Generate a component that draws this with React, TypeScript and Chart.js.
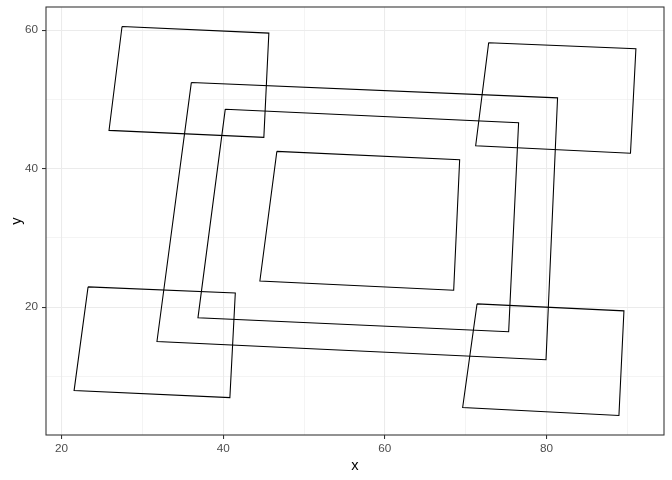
import React, { useEffect, useRef } from "react";
import { Chart, registerables } from "chart.js";

Chart.register(...registerables);

// Polygon vertices
const topLeftX = [27.49, 45.65, 45.03, 25.88];
const topLeftY = [60.53, 59.57, 44.52, 45.53];
const topRightX = [72.84, 91.05, 90.38, 71.23];
const topRightY = [58.19, 57.32, 42.22, 43.31];
const bottomLeftX = [23.29, 41.5, 40.83, 21.56];
const bottomLeftY = [22.94, 22.07, 6.96, 7.97];
const bottomRightX = [71.4, 89.57, 88.95, 69.62];
const bottomRightY = [20.49, 19.48, 4.37, 5.53];
const centerX = [46.64, 69.25, 68.51, 44.54];
const centerY = [42.5, 41.29, 22.45, 23.8];
const outerX = [36.06, 81.36, 79.93, 31.81];
const outerY = [52.43, 50.22, 12.43, 15.06];
const innerX = [40.26, 76.54, 75.31, 36.88];
const innerY = [48.59, 46.62, 16.46, 18.47];

const polygons = [
  [topLeftX, topLeftY],
  [topRightX, topRightY],
  [bottomLeftX, bottomLeftY],
  [bottomRightX, bottomRightY],
  [centerX, centerY],
  [outerX, outerY],
  [innerX, innerY],
];

const xTicks = [20, 30, 40, 50, 60, 70, 80, 90];
const xMajor = [20, 40, 60, 80];
const yTicks = [10, 20, 30, 40, 50, 60];
const yMajor = [20, 40, 60];

const FONT = "'Liberation Sans', Arial, sans-serif";

export default function App() {
  const ref = useRef<HTMLCanvasElement | null>(null);
  useEffect(() => {
    document.body.style.margin = "0";
    const allX = polygons.flatMap((p) => p[0]);
    const allY = polygons.flatMap((p) => p[1]);
    const xmin = Math.min(...allX), xmax = Math.max(...allX);
    const ymin = Math.min(...allY), ymax = Math.max(...allY);
    const xr = xmax - xmin, yr = ymax - ymin;

    const datasets = polygons.map(([xs, ys]) => {
      const pts = xs.map((x, i) => ({ x, y: ys[i] }));
      pts.push({ x: xs[0], y: ys[0] });
      return {
        data: pts,
        showLine: true,
        borderColor: "#000000",
        borderWidth: 1.07,
        pointRadius: 0,
        fill: false,
        tension: 0,
      };
    });

    const borderPlugin = {
      id: "panelBorder",
      afterDraw(chart: any) {
        const { ctx, chartArea } = chart;
        ctx.save();
        ctx.strokeStyle = "#333333";
        ctx.lineWidth = 1.07;
        ctx.strokeRect(chartArea.left, chartArea.top, chartArea.right - chartArea.left, chartArea.bottom - chartArea.top);
        ctx.restore();
      },
    };

    const gridOpts = (majors: number[]) => ({
      color: "#EBEBEB",
      lineWidth: (c: any) => (majors.includes(c.tick?.value) ? 1.07 : 0.53),
      tickColor: (c: any) => (majors.includes(c.tick?.value) ? "#333333" : "rgba(0,0,0,0)"),
      tickWidth: 1.07,
      tickLength: 4,
      drawTicks: true,
    });

    const chart = new Chart(ref.current as HTMLCanvasElement, {
      type: "scatter",
      data: { datasets },
      plugins: [borderPlugin],
      options: {
        animation: false,
        responsive: false,
        layout: { padding: { top: 7, right: 8, left: 0, bottom: 0 } },
        plugins: { legend: { display: false }, tooltip: { enabled: false } },
        scales: {
          x: {
            type: "linear",
            min: xmin - 0.05 * xr,
            max: xmax + 0.05 * xr,
            afterBuildTicks: (s: any) => {
              s.ticks = xTicks.map((v) => ({ value: v }));
            },
            afterFit: (s: any) => {
              s.height = 45;
              s.paddingLeft = 0;
              s.paddingRight = 0;
            },
            ticks: {
              color: "#4D4D4D",
              font: { family: FONT, size: 11.73 },
              padding: 3,
              maxRotation: 0,
              autoSkip: false,
              callback: (v: any) => (xMajor.includes(v) ? String(v) : ""),
            },
            grid: gridOpts(xMajor),
            border: { display: false },
            title: {
              display: true,
              text: "x",
              color: "#000000",
              font: { family: FONT, size: 14.67 },
              padding: { top: 0, bottom: 5 },
            },
          },
          y: {
            type: "linear",
            min: ymin - 0.05 * yr,
            max: ymax + 0.05 * yr,
            afterBuildTicks: (s: any) => {
              s.ticks = yTicks.map((v) => ({ value: v }));
            },
            afterFit: (s: any) => {
              s.width = 46;
              s.paddingTop = 0;
              s.paddingBottom = 0;
            },
            ticks: {
              color: "#4D4D4D",
              font: { family: FONT, size: 11.73 },
              padding: 4,
              autoSkip: false,
              callback: (v: any) => (yMajor.includes(v) ? String(v) : ""),
            },
            grid: gridOpts(yMajor),
            border: { display: false },
            title: {
              display: true,
              text: "y",
              color: "#000000",
              font: { family: FONT, size: 14.67 },
              padding: { top: 8, bottom: 0 },
            },
          },
        },
      },
    } as any);
    return () => chart.destroy();
  }, []);

  return (
    <div style={{ position: "absolute", left: 0, top: 0, width: 672, height: 480 }}>
      <canvas ref={ref} width={672} height={480} style={{ display: "block" }} />
    </div>
  );
}
